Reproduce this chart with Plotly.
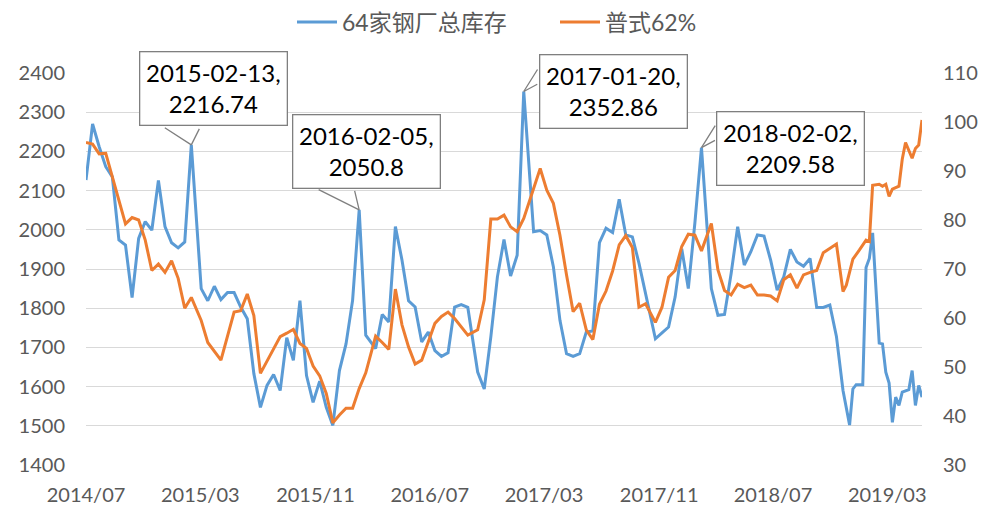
import numpy as np
import pandas as pd
import plotly.graph_objects as go

# ---------------- data ----------------
start_date = "2014-07-04"  # first weekly observation (Friday)

series_names = ["64家钢厂总库存", "普式62%"]

# week offsets from start_date, and values
stock_weeks = [0, 2, 4, 6, 8, 10, 12, 14, 16, 18, 20, 22, 24, 26, 28, 30, 32, 35, 37, 39,
               41, 43, 45, 47, 49, 51, 53, 55, 57, 59, 61, 63, 65, 67, 69, 71, 73, 75, 77, 79,
               81, 83, 85, 88, 90, 92, 94, 96, 98, 100, 102, 104, 106, 108, 110, 112, 114, 116, 119, 121,
               123, 125, 127, 129, 131, 133, 136, 138, 140, 142, 144, 146, 148, 150, 152, 154, 156, 158, 160, 162,
               164, 166, 168, 170, 173, 175, 177, 179, 181, 183, 185, 187, 190, 192, 194, 196, 198, 200, 202, 204,
               206, 208, 210, 212, 214, 216, 218, 220, 222, 224, 226, 228, 230, 232, 233, 234, 236, 237, 238, 239,
               241, 242, 243, 244, 245, 246, 247, 248, 250, 251, 252, 253, 254]
stock_values = [2127, 2270, 2212, 2161, 2135, 1974, 1961, 1827, 1978, 2021, 1999, 2126, 2008, 1967, 1954, 1969, 2216.74, 1850, 1819, 1856,
                1822, 1840, 1840, 1803, 1773, 1633, 1547, 1603, 1631, 1590, 1725, 1667, 1819, 1628, 1560, 1614, 1547, 1501, 1641, 1709,
                1820, 2050.8, 1731, 1697, 1784, 1765, 2008, 1923, 1819, 1803, 1714, 1739, 1692, 1677, 1686, 1803, 1809, 1802, 1637, 1594,
                1727, 1880, 1975, 1882, 1935, 2352.86, 1995, 1998, 1987, 1906, 1769, 1684, 1677, 1684, 1739, 1742, 1967, 2004, 1993, 2078,
                1987, 1982, 1915, 1840, 1722, 1737, 1752, 1829, 1952, 1850, 2018, 2209.58, 1850, 1782, 1784, 1888, 2008, 1910, 1944, 1987,
                1984, 1923, 1846, 1880, 1950, 1918, 1907, 1927, 1802, 1802, 1808, 1728, 1590, 1502, 1594, 1605, 1605, 1904, 1927, 1992,
                1711, 1709, 1637, 1609, 1509, 1573, 1552, 1586, 1592, 1641, 1552, 1603, 1573]

ore_weeks = [0, 2, 4, 6, 12, 14, 16, 18, 20, 22, 24, 26, 28, 30, 32, 35, 37, 39, 41, 45,
             47, 49, 51, 53, 55, 57, 59, 61, 63, 65, 67, 69, 71, 73, 75, 77, 79, 81, 83, 85,
             88, 90, 92, 94, 96, 98, 100, 102, 104, 106, 108, 110, 112, 114, 116, 119, 121, 123, 125, 127,
             129, 131, 133, 138, 140, 142, 144, 146, 148, 150, 152, 154, 156, 158, 160, 162, 164, 166, 168, 170,
             173, 175, 177, 179, 181, 183, 185, 187, 190, 192, 194, 196, 198, 200, 202, 204, 206, 208, 210, 212,
             214, 216, 218, 220, 222, 224, 226, 228, 230, 231, 233, 234, 235, 237, 238, 239, 241, 242, 243, 244,
             245, 247, 248, 249, 251, 252, 253, 254]
ore_values = [95.8, 95.5, 93.5, 93.6, 79.2, 80.5, 80.0, 75.9, 69.7, 71.0, 69.3, 71.7, 68.1, 62.0, 64.2, 59.5, 55.0, 53.3, 51.4, 61.2,
              61.5, 64.9, 60.5, 48.7, 51.1, 53.5, 56.2, 56.9, 57.7, 54.8, 53.8, 50.2, 48.2, 44.6, 38.6, 40.2, 41.6, 41.6, 45.6, 48.8,
              56.3, 55.0, 53.6, 65.9, 58.6, 54.1, 50.6, 51.4, 55.2, 58.9, 60.3, 61.2, 59.9, 58.2, 56.5, 57.6, 63.7, 80.2, 80.2, 81.0,
              78.6, 77.6, 80.3, 90.5, 86.1, 83.4, 76.9, 68.8, 61.3, 63.0, 57.6, 55.6, 62.8, 65.5, 69.6, 74.9, 76.8, 74.4, 62.2, 62.9,
              59.1, 62.2, 68.3, 69.7, 74.6, 77.1, 76.9, 73.7, 79.3, 69.8, 65.6, 64.7, 66.9, 66.2, 66.7, 64.7, 64.7, 64.5, 63.5, 67.8,
              68.8, 66.1, 68.8, 69.3, 69.7, 73.3, 74.2, 75.1, 65.4, 66.7, 72.0, 72.9, 73.9, 75.9, 75.6, 87.1, 87.3, 86.9, 87.3, 84.8,
              86.3, 86.9, 92.4, 95.8, 92.6, 94.6, 95.3, 100.4]

# labelled peaks of the stock series
peak_dates = ["2015-02-13", "2016-02-05", "2017-01-20", "2018-02-02"]
peak_values = [2216.74, 2050.8, 2352.86, 2209.58]

tick_dates = ["2014-07-04", "2015-03-04", "2015-11-04", "2016-07-04",
              "2017-03-04", "2017-11-04", "2018-07-04", "2019-03-04"]
tick_labels = ["2014/07", "2015/03", "2015/11", "2016/07",
               "2017/03", "2017/11", "2018/07", "2019/03"]

# ---------------- build ----------------
t0 = pd.Timestamp(start_date)
stock_dates = t0 + pd.to_timedelta(np.array(stock_weeks) * 7, unit="D")
ore_dates = t0 + pd.to_timedelta(np.array(ore_weeks) * 7, unit="D")

BLUE = "#5B9BD5"
ORANGE = "#ED7D31"
GRAY = "#595959"
FONT = "Lato, 'Noto Sans CJK SC', sans-serif"

fig = go.Figure()
fig.add_trace(go.Scatter(x=stock_dates, y=stock_values, name=series_names[0], mode="lines",
                         line=dict(color=BLUE, width=3), yaxis="y"))
fig.add_trace(go.Scatter(x=ore_dates, y=ore_values, name=series_names[1], mode="lines",
                         line=dict(color=ORANGE, width=3), yaxis="y2"))

# callout boxes: (box offset), (wedge base offsets) in pixels
box_offsets = [(22, -56), (7, -58), (90, 0), (89, 1)]
wedge_offsets = [[(-28, -18), (9, -18)], [(-42, -21), (-5, -21)],
                 [(15, -24), (15, -8)], [(15, -24), (15, -8)]]

annotations = []
for d, v, (bx, by), wedges in zip(peak_dates, peak_values, box_offsets, wedge_offsets):
    for (wx, wy) in wedges:
        annotations.append(dict(x=d, y=v, xref="x", yref="y", text=" ", font=dict(size=1),
                                showarrow=True, arrowhead=0, arrowwidth=1.3, arrowcolor="#7F7F7F",
                                ax=wx, ay=wy, standoff=0, startstandoff=0))
    annotations.append(dict(x=d, y=v, xref="x", yref="y",
                            text=f"{d},<br>{v:g}",
                            font=dict(family=FONT, size=24, color="#000000"),
                            showarrow=True, arrowcolor="rgba(0,0,0,0)", arrowwidth=0.1,
                            ax=bx, ay=by, align="center",
                            bgcolor="#FFFFFF", bordercolor="#7F7F7F", borderwidth=1.3,
                            borderpad=6, width=134, height=60))

# page body adds an 8 px offset; figure is sized so the plot lands where the reference has it
fig.update_layout(
    width=978, height=500,
    margin=dict(l=78, r=64, t=65, b=43, autoexpand=False),
    paper_bgcolor="white", plot_bgcolor="white",
    font=dict(family=FONT, size=20, color=GRAY),
    showlegend=True,
    legend=dict(orientation="h", x=(292 - 78 - 8) / 836, xanchor="left",
                yref="container", y=1 - 14 / 500, yanchor="middle",
                font=dict(family=FONT, size=23, color=GRAY), itemwidth=40,
                entrywidth=208, bgcolor="rgba(0,0,0,0)"),
    xaxis=dict(type="date", range=[stock_dates[0], stock_dates[-1]],
               tickmode="array", tickvals=tick_dates, ticktext=tick_labels,
               showgrid=False, zeroline=False, showline=False, ticks="",
               tickfont=dict(size=20, color=GRAY), ticklabelstandoff=16),
    yaxis=dict(range=[1400, 2400], dtick=100, showgrid=True, gridcolor="#D9D9D9", gridwidth=1.3,
               zeroline=False, showline=False, ticks="",
               tickfont=dict(size=20, color=GRAY), ticklabelstandoff=20),
    yaxis2=dict(range=[30, 110], dtick=10, overlaying="y", side="right", showgrid=False,
                zeroline=False, showline=False, ticks="",
                tickfont=dict(size=20, color=GRAY), ticklabelstandoff=20),
    annotations=annotations,
)

fig.write_html("out.html")
